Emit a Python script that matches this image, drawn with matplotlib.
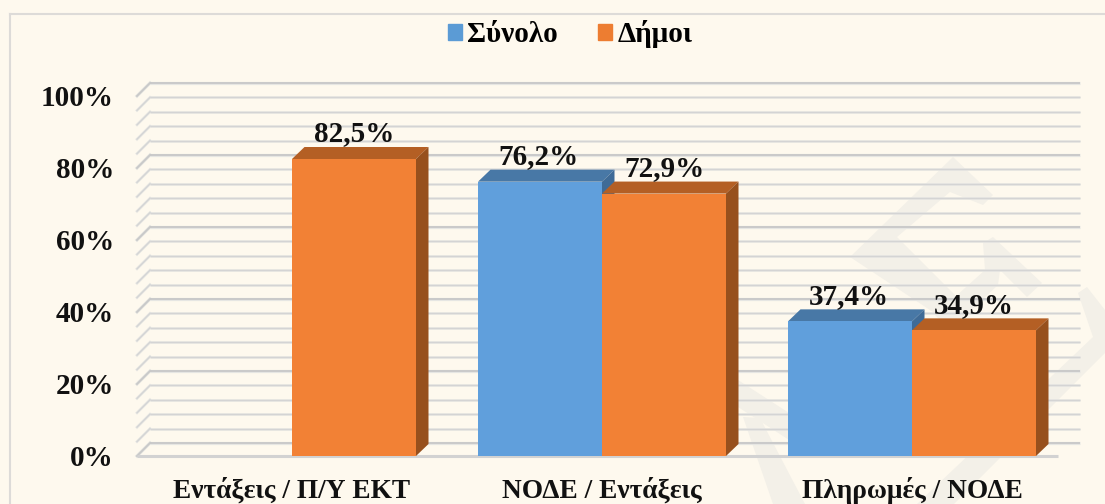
import matplotlib
matplotlib.use("Agg")
import matplotlib.pyplot as plt
import numpy as np
from matplotlib.patches import Patch, Polygon
from matplotlib.lines import Line2D

plt.rcParams["font.family"] = ["Liberation Serif", "DejaVu Serif"]
plt.rcParams["font.weight"] = "bold"

categories = ["Εντάξεις / Π/Υ ΕΚΤ", "ΝΟΔΕ / Εντάξεις", "Πληρωμές / ΝΟΔΕ"]
synolo = [np.nan, 76.2, 37.4]
dimoi = [82.5, 72.9, 34.9]
labels_synolo = ["", "76,2%", "37,4%"]
labels_dimoi = ["82,5%", "72,9%", "34,9%"]
yticks = [0, 20, 40, 60, 80, 100]

W, H = 1105, 504
BG = "#fef9ee"
fig = plt.figure(figsize=(W / 100, H / 100), dpi=100, facecolor=BG)


def px(x, y):
    return x / W, 1 - y / H


# watermark + outer border
wm = [
    [(953, 157), (993, 195), (983, 205), (950, 192), (897, 237), (960, 300), (945, 320), (850, 257)],
    [(993, 237), (1042, 283), (1027, 297), (1000, 270), (998, 285), (950, 330), (935, 315), (985, 270), (983, 243)],
    [(1087, 287), (1105, 310), (1105, 353), (954, 504), (917, 504), (1093, 337), (1078, 293)],
    [(743, 417), (760, 418), (805, 504), (773, 504)],
    [(738, 380), (800, 420), (800, 447), (738, 407)],
]
for p in wm:
    fig.add_artist(Polygon([px(*q) for q in p], closed=True, transform=fig.transFigure,
                           fc="#f3f0e8", ec="none", zorder=0))
fig.add_artist(Line2D([10 / W, 10 / W], [0, 1 - 14 / H], transform=fig.transFigure, color="#dddbd8", lw=1.5))
fig.add_artist(Line2D([10 / W, 1], [1 - 14 / H, 1 - 14 / H], transform=fig.transFigure, color="#dddbd8", lw=1.5))

# axes = front plane of the 3d box
left, right, bottom, top = 137, 1067, 456, 96
ax = fig.add_axes([left / W, 1 - bottom / H, (right - left) / W, (bottom - top) / H])
ax.patch.set_alpha(0)
ax.set_xlim(-0.5, 2.5)
ax.set_ylim(0, 100)
for s in ax.spines.values():
    s.set_visible(False)

# depth of the box walls and of the bars, in data units
dx = 13 / 310
dy = 13 / 3.6
bar_dx = 12.5 / 310
bar_dy = 12 / 3.6
width = 0.4

# back wall gridlines and the side wall diagonals
for v in range(0, 101, 4):
    major = v % 20 == 0
    c = "#c8c8c8" if major else "#d4d4d4"
    lw = 1.3 if major else 0.9
    ax.plot([-0.5 + dx, 2.5 + dx], [v + dy, v + dy], color="#e6e6e3", lw=lw + 1, clip_on=False, zorder=1,
            solid_capstyle="butt")
    ax.plot([-0.5 + dx, 2.5 + dx], [v + dy, v + dy], color=c, lw=lw, clip_on=False, zorder=1.1,
            solid_capstyle="butt")
    ax.plot([-0.5, -0.5 + dx], [v, v + dy], color="#e6e6e3", lw=lw + 1, clip_on=False, zorder=1)
    ax.plot([-0.5, -0.5 + dx], [v, v + dy], color=c, lw=lw, clip_on=False, zorder=1.1)
ax.plot([-0.5, 2.47], [0, 0], color="#d2d2d2", lw=2.2, clip_on=False, zorder=1.2, solid_capstyle="butt")


def bars3d(xs, vals, front, topc, side, z):
    ax.bar(xs, vals, width, color=front, zorder=z + 0.2)
    for x, v in zip(xs, vals):
        if np.isnan(v):
            continue
        x0, x1 = x - width / 2, x + width / 2
        ax.add_patch(Polygon([(x0, v), (x1, v), (x1 + bar_dx, v + bar_dy), (x0 + bar_dx, v + bar_dy)],
                             fc=topc, ec="none", zorder=z))
        ax.add_patch(Polygon([(x1, 0), (x1, v), (x1 + bar_dx, v + bar_dy), (x1 + bar_dx, bar_dy)],
                             fc=side, ec="none", zorder=z))


pos = np.arange(3)
bars3d(pos - width / 2, synolo, "#609fdc", "#4878a6", "#3f6b97", 3)
bars3d(pos + width / 2, dimoi, "#f28135", "#b45f24", "#97501d", 4)

for i in range(3):
    if labels_synolo[i]:
        ax.annotate(labels_synolo[i], (i - width / 2, synolo[i]), xytext=(-1, 18), textcoords="offset points",
                    ha="center", va="center", fontsize=21, color="#111111", zorder=6)
    ax.annotate(labels_dimoi[i], (i + width / 2, dimoi[i]), xytext=(0, 18), textcoords="offset points",
                ha="center", va="center", fontsize=21, color="#111111", zorder=6)

ax.set_xticks(pos, categories)
ax.set_yticks(yticks, [f"{v}%" for v in yticks])
ax.tick_params(axis="y", length=0, labelsize=21, labelcolor="#111111", pad=16.5)
ax.tick_params(axis="x", length=0, labelsize=19.7, labelcolor="#111111", pad=15)

handles = [Patch(color="#5b9bd5", label="Σύνολο"), Patch(color="#ed7d31", label="Δήμοι")]
fig.legend(handles=handles, loc="center", bbox_to_anchor=(570 / W, 1 - 34 / H), ncol=2, frameon=False,
           fontsize=21, handlelength=0.48, handleheight=0.48, handletextpad=0.18, columnspacing=1.37)

plt.savefig("out.png", dpi=100, facecolor=BG)
